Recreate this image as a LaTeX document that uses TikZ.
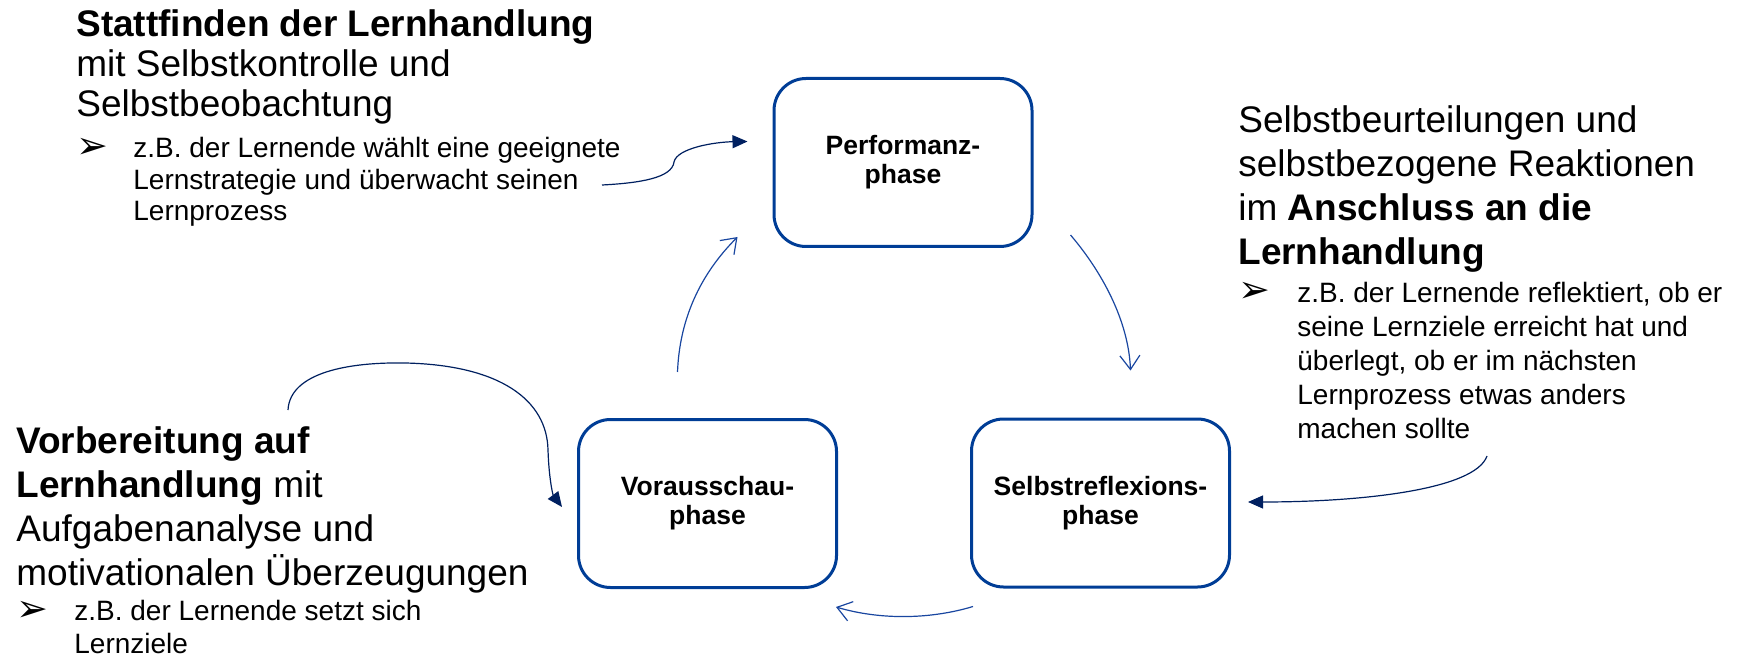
\documentclass[tikz,border=0pt]{standalone}
\usepackage{fontspec}
\setmainfont{Liberation Sans}
\newfontfamily\dingfont{DejaVu Sans}
\usetikzlibrary{
  arrows.meta,
  calc
}
\definecolor{boxcolor}{RGB}{0, 61, 150}
\definecolor{notearrowcolor}{RGB}{0, 32, 96}
\definecolor{cyclecolor}{RGB}{25, 70, 160}
\tikzset{
phasebox/.style={
  draw=boxcolor,
  line width=1.5pt,
  rounded corners=16pt,
  minimum width=129pt,
  minimum height=84pt,
  align=center,
  font=\bfseries\fontsize{13.25}{14.5}\selectfont
},
% base = Grundlinie der letzten Zeile
headtext/.style={
  anchor=base west,
  align=left,
  inner sep=0pt,
  font=\fontsize{18.5}{22}\selectfont
},
bullettext/.style={
  anchor=base west,
  align=left,
  inner sep=0pt,
  font=\fontsize{14}{17}\selectfont
},
bulletmark/.style={
  anchor=base west,
  inner sep=0pt,
  font=\dingfont\fontsize{19}{19}\selectfont
},
cyclearrow/.style={
  -{Straight Barb[length=7pt,width=10pt]},
  line width=0.6pt,
  draw=cyclecolor
},
notearrow/.style={
  -{Triangle[length=7.5pt,width=6.5pt]},
  line width=0.6pt,
  draw=notearrowcolor
}
}
\begin{document}
\begin{tikzpicture}[x=0.5pt,y=-0.5pt]
\useasboundingbox (0,0) rectangle (1738,657);

% die drei Phasen
\node[phasebox] (perf) at (903,162.5) {Performanz-\\phase};
\node[phasebox] (vor) at (707.5,503.5) {Vorausschau-\\phase};
\node[phasebox] (selbst) at (1100.5,503) {Selbstreflexions-\\phase};

% Erlaeuterungen
\node[headtext, font=\fontsize{18.5}{20.2}\selectfont] (perfhead) at (76,117)
  {\textbf{Stattfinden der Lernhandlung}\\mit Selbstkontrolle und\\Selbstbeobachtung};
\node[bulletmark] (perfmark) at (76,159) {➢};
\node[bullettext, font=\fontsize{14}{15.8}\selectfont] (perfnote) at (133,221)
  {z.B. der Lernende wählt eine geeignete\\Lernstrategie und überwacht seinen\\Lernprozess};

\node[headtext] (selbsthead) at (1238,265)
  {Selbstbeurteilungen und\\selbstbezogene Reaktionen\\im \textbf{Anschluss an die}\\\textbf{Lernhandlung}};
\node[bulletmark] (selbstmark) at (1238,303) {➢};
\node[bullettext] (selbstnote) at (1297,438)
  {z.B. der Lernende reflektiert, ob er\\seine Lernziele erreicht hat und\\überlegt, ob er im nächsten\\Lernprozess etwas anders\\machen sollte};

\node[headtext] (vorhead) at (16,585)
  {\textbf{Vorbereitung auf}\\\textbf{Lernhandlung} mit\\Aufgabenanalyse und\\motivationalen Überzeugungen};
\node[bulletmark] (vormark) at (16,621) {➢};
\node[bullettext, font=\fontsize{14}{16.5}\selectfont] (vornote) at (74,653)
  {z.B. der Lernende setzt sich\\Lernziele};

\coordinate (perfnoteend) at (602,185);
\coordinate (selbstnotestart) at (1487,456);
\coordinate (vornotestart) at (288,410);

% Kreislauf
\draw[cyclearrow] ($(vor.north)+(-30,-46)$) .. controls +(2,-52) and +(-38,38) .. ($(perf.south west)+(-35,-11)$);
\draw[cyclearrow] ($(perf.south east)+(37,-13)$) .. controls +(30,35) and +(-2,-51) .. ($(selbst.north)+(30,-47)$);
\draw[cyclearrow] ($(selbst.south west)+(3,18)$) .. controls +(-43,13) and +(44,13) .. ($(vor.south east)+(-2,18)$);

% Pfeile von den Erlaeuterungen
\draw[notearrow] (perfnoteend) .. controls (640,183) and (672,178) .. (674,162)
  .. controls (677,148) and (715,142) .. ($(perf.west)+(-25,-21)$);
\draw[notearrow] (selbstnotestart) .. controls +(-12,34) and +(112,0) .. ($(selbst.east)+(17,-1)$);
\draw[notearrow] (vornotestart) .. controls (290,372) and (350,362) .. (405,363)
  .. controls (500,365) and (547,400) .. (548,450)
  .. controls (549,480) and (553,495) .. ($(vor.west)+(-15,3.5)$);
\end{tikzpicture}
\end{document}
